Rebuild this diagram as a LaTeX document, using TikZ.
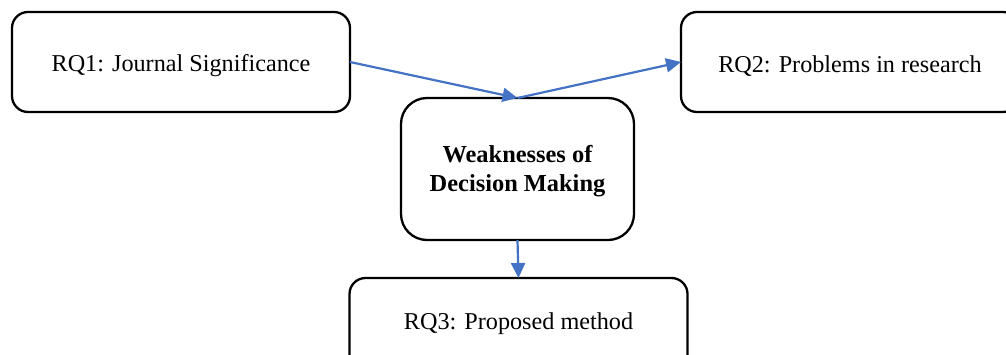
\documentclass[tikz,border=0pt]{standalone}
\usepackage{fontspec}
\setmainfont{Liberation Serif}
\usetikzlibrary{arrows.meta}
\definecolor{arrowblue}{RGB}{68,114,196}
\newcommand{\shifttext}[2]{\raisebox{#1}[\height][\depth]{#2}}
\tikzset{
  rqbox/.style={draw=black, line width=2.3pt, rounded corners=16pt, minimum width=338pt, minimum height=100pt, inner sep=0pt, outer sep=0pt, font=\fontsize{24.2}{29}\selectfont},
  centerbox/.style={draw=black, line width=2.3pt, rounded corners=26pt, minimum width=233pt, minimum height=142pt, inner sep=0pt, outer sep=0pt, align=center, font=\fontsize{24.4}{29}\selectfont\bfseries},
  flow/.style={draw=arrowblue, line width=2.2pt, -{Triangle[length=15pt,width=14pt]}}
}
\begin{document}
\begin{tikzpicture}[x=1pt,y=-1pt]
\clip (0,0) rectangle (1006,354);
\useasboundingbox (0,0) rectangle (1006,354);
\node[rqbox] (rq1) at (181,62) {\shifttext{-4pt}{RQ1: Journal Significance}};
\node[rqbox] (rq2) at (850,62) {\shifttext{-4pt}{RQ2: Problems in research}};
\node[centerbox] (weak) at (517.5,169) {\shifttext{-2pt}{\begin{tabular}{@{}c@{}}Weaknesses of\\Decision Making\end{tabular}}};
\node[rqbox] (rq3) at (518.5,328) {\shifttext{4pt}{RQ3: Proposed method}};
\draw[flow] (rq1.east) -- (weak.north);
\draw[flow] (weak.north) -- (rq2.west);
\draw[flow] (weak.south) -- (rq3.north);
\end{tikzpicture}
\end{document}
